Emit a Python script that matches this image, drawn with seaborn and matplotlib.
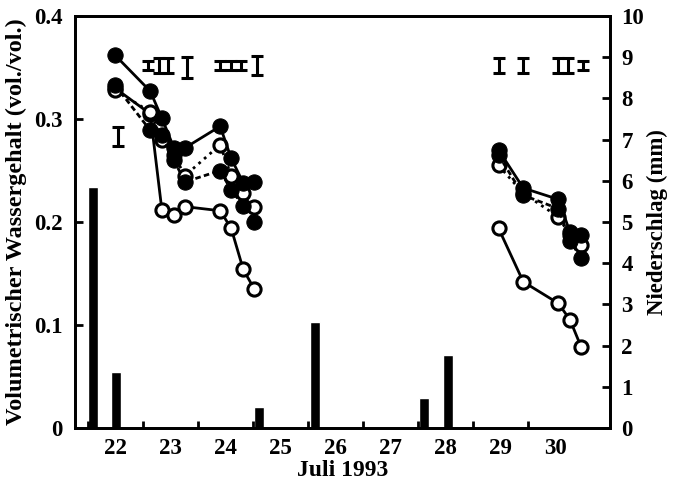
import numpy as np
import pandas as pd
import matplotlib
matplotlib.use("Agg")
import matplotlib.pyplot as plt
import seaborn as sns

# ---- data ----
times_p1 = [22.0, 22.64, 22.85, 23.07, 23.27, 23.91, 24.11, 24.33, 24.53]
times_p2 = [28.97, 29.42, 30.06, 30.27, 30.47]

series_a = [0.362, 0.327, 0.301, 0.272, 0.272, 0.293, 0.262, 0.238, 0.239,
            0.270, 0.233, 0.222, 0.190, 0.187]
series_b = [0.333, 0.289, 0.285, 0.260, 0.239, 0.250, 0.231, 0.216, 0.200,
            0.265, 0.226, 0.213, 0.182, 0.165]
series_c = [0.328, 0.307, 0.280, 0.265, 0.245, 0.275, 0.245, 0.228, 0.215,
            0.255, 0.228, 0.205, 0.187, 0.178]
series_d = [0.330, 0.305, 0.212, 0.207, 0.215, 0.211, 0.194, 0.154, 0.135,
            0.194, 0.142, 0.121, 0.105, 0.079]

err_x = [22.06, 22.6, 22.8, 22.97, 23.3, 23.9, 24.1, 24.28, 24.58,
         28.97, 29.42, 30.06, 30.24, 30.5]
err_y = [0.283, 0.352, 0.352, 0.352, 0.350, 0.352, 0.352, 0.352, 0.352,
         0.352, 0.352, 0.352, 0.352, 0.352]
err_sd = [0.009, 0.004, 0.007, 0.007, 0.010, 0.004, 0.004, 0.004, 0.009,
          0.007, 0.007, 0.007, 0.007, 0.004]

rain_days = [21.6, 22.02, 24.61, 25.63, 27.62, 28.05]
rain_mm = [5.85, 1.35, 0.5, 2.58, 0.72, 1.77]

day_ticks = [22, 23, 24, 25, 26, 27, 28, 29, 30]
half_ticks = [21.5, 22.5, 23.5, 24.5, 25.5, 26.5, 27.5, 28.5, 29.5]

# ---- build table ----
times = times_p1 + times_p2
period = [1] * len(times_p1) + [2] * len(times_p2)
rows = []
for name, vals in [("A", series_a), ("B", series_b), ("C", series_c), ("D", series_d)]:
    for t, p, v in zip(times, period, vals):
        rows.append({"series": name, "tag": t, "period": p, "theta": v})
df = pd.DataFrame(rows)

sns.set_theme(style="white")
plt.rcParams["font.family"] = ["Liberation Serif", "DejaVu Serif"]
plt.rcParams["font.weight"] = "bold"
plt.rcParams["text.color"] = "black"
plt.rcParams["axes.labelcolor"] = "black"
plt.rcParams["xtick.color"] = "black"
plt.rcParams["ytick.color"] = "black"

fig = plt.figure(figsize=(6.75, 4.87), dpi=100)
ax = fig.add_axes([0.111, 0.121, 0.793, 0.846])
ax2 = ax.twinx()

# precipitation bars (right axis)
ax2.bar(rain_days, rain_mm, width=0.18, color="black", zorder=2)
ax2.set_ylim(0, 10)
ax2.set_yticks(range(0, 11))
ax2.set_yticklabels([str(i) for i in range(0, 11)])

# water content lines (left axis)
styles = {
    "A": dict(marker="o", markersize=11, markerfacecolor="black",
              markeredgecolor="black", linestyle="-"),
    "B": dict(marker="o", markersize=11, markerfacecolor="black",
              markeredgecolor="black", linestyle=(0, (2, 1.2))),
    "C": dict(marker="o", markersize=9.5, markerfacecolor="white",
              markeredgecolor="black", markeredgewidth=2.2, linestyle=":"),
    "D": dict(marker="o", markersize=9.5, markerfacecolor="white",
              markeredgecolor="black", markeredgewidth=2.2, linestyle="-"),
}
order = ["D", "C", "B", "A"]
for name in order:
    sub = df[df["series"] == name]
    sns.lineplot(data=sub, x="tag", y="theta", units="period", estimator=None,
                 color="black", linewidth=2, ax=ax, legend=False,
                 **styles[name])

ax.errorbar(err_x, err_y, yerr=err_sd, fmt="none", ecolor="black",
            elinewidth=2.2, capsize=4.5, capthick=2.2)

ax.set_xlim(21.27, 31.0)
ax.set_ylim(0, 0.4)
ax.set_yticks([0, 0.1, 0.2, 0.3, 0.4])
ax.set_yticklabels(["0", "0.1", "0.2", "0.3", "0.4"])
ax.set_xticks(day_ticks)
ax.set_xticklabels([str(d) for d in day_ticks])
ax.set_xticks(half_ticks, minor=True)

ax.set_zorder(ax2.get_zorder() + 1)
ax.patch.set_visible(False)

for a in (ax, ax2):
    for s in a.spines.values():
        s.set_color("black")
        s.set_linewidth(2)

ax.tick_params(axis="x", which="major", length=0, pad=7, labelsize=16.5)
ax.tick_params(axis="x", which="minor", direction="in", length=5, width=2,
               color="black", bottom=True)
ax.tick_params(axis="y", direction="in", length=6, width=2, color="black",
               labelsize=16.5, pad=9)
ax2.tick_params(axis="y", direction="in", length=6, width=2, color="black",
                labelsize=16.5, pad=8)

ax.set_xlabel("Juli 1993", fontsize=17, fontweight="bold", labelpad=1)
ax.set_ylabel("Volumetrischer Wassergehalt (vol./vol.)", fontsize=17.5,
              fontweight="bold", labelpad=5)
ax2.set_ylabel("Niederschlag (mm)", fontsize=16.5, fontweight="bold",
               labelpad=2)

for lbl in ax.get_xticklabels() + ax.get_yticklabels() + ax2.get_yticklabels():
    lbl.set_fontweight("bold")

fig.savefig("out.png", dpi=100)
